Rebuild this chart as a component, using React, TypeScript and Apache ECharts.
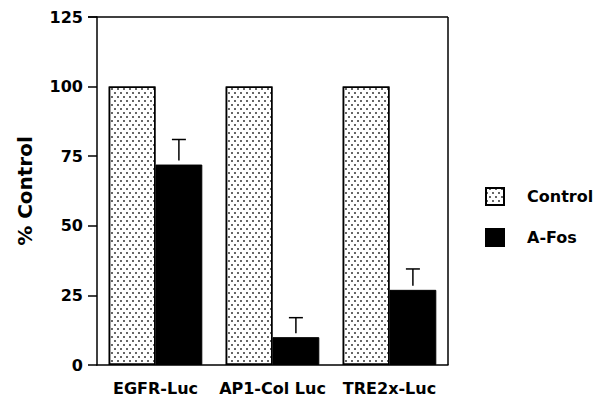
import React, { useEffect, useRef } from "react";
import * as echarts from "echarts";

const categories = ["EGFR-Luc", "AP1-Col Luc", "TRE2x-Luc"];
const controlValues = [100, 100, 100];
const afosValues = [72, 10, 27];
const afosErrors = [9, 7, 7.5];
const yTicks = [0, 25, 50, 75, 100, 125];

const FONT = "'DejaVu Sans', 'Liberation Sans', Arial, sans-serif";

export default function App() {
  const ref = useRef<HTMLDivElement>(null);
  useEffect(() => {
    if (!ref.current) return;
    const chart = echarts.init(ref.current, null, { renderer: "svg" });
    const dotDecal = {
      symbol: "rect",
      symbolSize: 0.8,
      color: "#000",
      backgroundColor: "#fff",
      dashArrayX: [[2, 4], [0, 3, 2, 1]],
      dashArrayY: [2, 2],
      rotation: 0,
    };
    chart.setOption({
      animation: false,
      backgroundColor: "#fff",
      grid: { left: 97, right: 158, top: 17, bottom: 35, containLabel: false },
      legend: {
        orient: "vertical",
        left: 480,
        top: 182,
        itemWidth: 18,
        itemHeight: 17,
        itemGap: 22,
        icon: "rect",
        textStyle: {
          fontFamily: FONT,
          fontWeight: "bold",
          fontSize: 16,
          lineHeight: 17,
          color: "#000",
          padding: [0, 0, 0, 18],
        },
        data: ["Control", "A-Fos"],
      },
      xAxis: {
        type: "category",
        data: categories,
        axisLine: { lineStyle: { color: "#000", width: 1.5 } },
        axisTick: { alignWithLabel: true, length: 7, lineStyle: { color: "#000", width: 1.5 } },
        axisLabel: { interval: 0, fontFamily: FONT, fontWeight: "bold", fontSize: 16, color: "#000", margin: 15 },
      },
      yAxis: {
        type: "value",
        min: yTicks[0],
        max: yTicks[yTicks.length - 1],
        interval: 25,
        name: "% Control",
        nameLocation: "middle",
        nameGap: 62,
        nameTextStyle: { fontFamily: FONT, fontWeight: "bold", fontSize: 20, color: "#000" },
        axisLine: { show: true, lineStyle: { color: "#000", width: 1.5 } },
        axisTick: { show: true, length: 9, lineStyle: { color: "#000", width: 1.5 } },
        axisLabel: { fontFamily: FONT, fontWeight: "bold", fontSize: 16, color: "#000", margin: 14 },
        splitLine: { show: false },
      },
      series: [
        {
          name: "Control",
          type: "bar",
          data: controlValues,
          barWidth: "40%",
          barGap: "0%",
          itemStyle: { color: "#fff", borderColor: "#000", borderWidth: 1.5, decal: dotDecal },
        },
        {
          name: "A-Fos",
          type: "bar",
          data: afosValues,
          barWidth: "40%",
          barGap: "0%",
          itemStyle: { color: "#000", borderColor: "#000", borderWidth: 1 },
        },
        {
          name: "err",
          type: "custom",
          silent: true,
          data: afosValues.map((v, i) => [i, v, v + afosErrors[i]]),
          renderItem: (params: any, api: any) => {
            const idx = api.value(0);
            const lo = api.coord([idx, api.value(1)]);
            const hi = api.coord([idx, api.value(2)]);
            const band = api.size([1, 0])[0];
            const x = lo[0] + band * 0.2;
            const cap = 7;
            return {
              type: "group",
              children: [
                { type: "line", shape: { x1: x, y1: lo[1] - 4, x2: x, y2: hi[1] }, style: { stroke: "#000", lineWidth: 1.5 } },
                { type: "line", shape: { x1: x - cap, y1: hi[1], x2: x + cap, y2: hi[1] }, style: { stroke: "#000", lineWidth: 1.5 } },
              ],
            };
          },
          z: 5,
        },
      ],
    });
    const w = chart.getWidth();
    chart.setOption({
      graphic: [
        { type: "line", shape: { x1: 88, y1: 17, x2: w - 158, y2: 17 }, style: { stroke: "#000", lineWidth: 1.5 } },
        { type: "line", shape: { x1: w - 158, y1: 17, x2: w - 158, y2: 365 }, style: { stroke: "#000", lineWidth: 1.5 } },
      ],
    });
    return () => chart.dispose();
  }, []);
  return <div ref={ref} style={{ width: 606, height: 400, position: "absolute", left: 0, top: 0 }} />;
}
